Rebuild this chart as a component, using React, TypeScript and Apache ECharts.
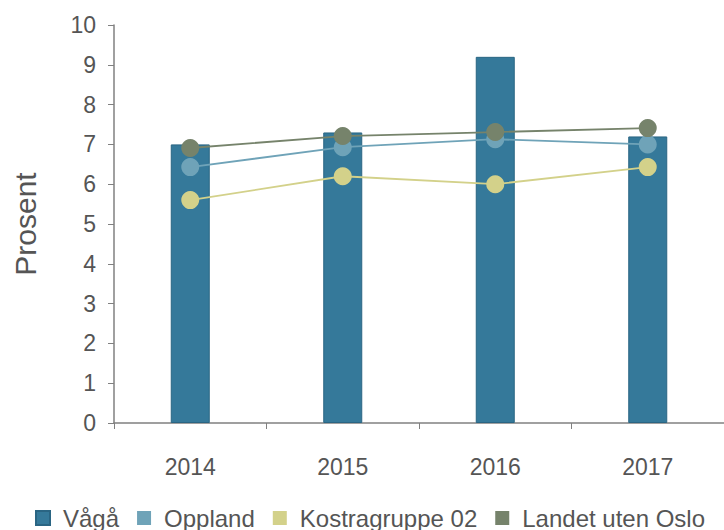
import React, { useEffect, useRef } from "react";
import * as echarts from "echarts";

const years = ["2014", "2015", "2016", "2017"];
const vaga = [7.0, 7.3, 9.2, 7.2];
const oppland = [6.43, 6.93, 7.13, 7.0];
const kostra = [5.6, 6.2, 6.0, 6.43];
const landet = [6.91, 7.21, 7.31, 7.41];

export default function App() {
  const ref = useRef<HTMLDivElement>(null);
  useEffect(() => {
    document.body.style.margin = "0";
    const chart = echarts.init(ref.current!, null, { renderer: "svg" });
    const font = "Liberation Sans, Arial, sans-serif";
    const lineSeries = (name: string, data: number[], color: string) => ({
      name,
      type: "line",
      data,
      symbol: "circle",
      symbolSize: 18,
      itemStyle: { color },
      lineStyle: { color, width: 1.8 },
      z: 3,
    });
    chart.setOption({
      animation: false,
      grid: { left: 114, top: 25, right: -2, bottom: 107, containLabel: false },
      legend: {
        top: 501,
        left: 30,
        itemWidth: 14,
        itemHeight: 14,
        itemGap: 18,
        icon: "rect",
        textStyle: { fontFamily: font, fontSize: 24, color: "#555", padding: [0, 0, 0, 8] },
        data: [
          { name: "Vågå", itemStyle: { color: "#35799a" } },
          { name: "Oppland", itemStyle: { color: "#6fa3b8" } },
          { name: "Kostragruppe 02", itemStyle: { color: "#d3d18a" } },
          { name: "Landet uten Oslo", itemStyle: { color: "#76836b" } },
        ],
      },
      xAxis: {
        type: "category",
        data: years,
        axisLine: { lineStyle: { color: "#808080", width: 1.5 } },
        axisTick: { show: true, length: 6, lineStyle: { color: "#808080" } },
        axisLabel: { fontFamily: font, fontSize: 23, color: "#555", margin: 32 },
      },
      yAxis: {
        type: "value",
        min: 0,
        max: 10,
        interval: 1,
        name: "Prosent",
        nameLocation: "middle",
        nameGap: 74,
        nameTextStyle: { fontFamily: font, fontSize: 30, color: "#555" },
        axisLine: { show: true, lineStyle: { color: "#808080", width: 1.5 } },
        axisTick: { show: true, length: 6, lineStyle: { color: "#808080" } },
        axisLabel: { fontFamily: font, fontSize: 23, color: "#555", margin: 18 },
        splitLine: { show: false },
      },
      series: [
        {
          name: "Vågå",
          type: "bar",
          data: vaga,
          barWidth: 39,
          itemStyle: { color: "#35799a", borderColor: "#2a6583", borderWidth: 1 },
          z: 2,
        },
        lineSeries("Oppland", oppland, "#6fa3b8"),
        lineSeries("Kostragruppe 02", kostra, "#d3d18a"),
        lineSeries("Landet uten Oslo", landet, "#76836b"),
      ],
    });
    return () => chart.dispose();
  }, []);
  return <div ref={ref} style={{ width: 724, height: 530 }} />;
}
